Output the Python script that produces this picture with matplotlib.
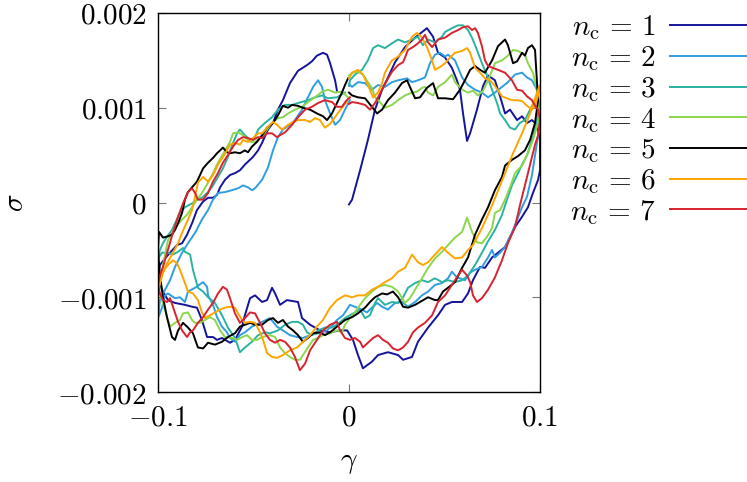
import numpy as np
import matplotlib
matplotlib.use("Agg")
import matplotlib.pyplot as plt

plt.rcParams['mathtext.fontset'] = 'cm'
plt.rcParams['font.family'] = 'serif'

# strain in units of 1e-2, stress in units of 1e-3, in time order
gamma_1 = [0, 0.16, 0.58, 0.99, 1.36, 1.73, 2.04, 2.41, 2.93, 3.46, 4.08, 4.40, 4.66, 5.03, 5.39, 5.65, 5.81, 5.97, 6.18, 6.34,
           6.70, 7.02, 7.28, 7.64, 7.91, 8.17, 8.43, 8.80, 9.06, 9.32, 9.58, 9.84, 10.0,
           10.0, 9.90, 9.63, 9.37, 9.06, 8.69, 8.17, 7.80, 7.49, 7.12, 6.86, 6.49, 6.23, 5.92, 5.39, 5.03, 4.66, 4.14, 3.61, 3.30,
           2.83, 2.57, 2.04, 1.52, 1.20, 0.73, 0.47, 0.21, -0.10, -0.47, -0.99, -1.52, -2.04, -2.46, -2.67, -3.25, -3.61, -3.87,
           -4.03, -4.29, -4.55, -4.92, -5.18, -5.45, -5.60, -5.97, -6.23, -6.65, -6.91, -7.12, -7.43, -7.70, -7.96, -8.22, -8.59,
           -9.11, -9.48, -9.79, -10.0,
           -9.90, -9.63, -9.37, -9.01, -8.74, -8.48, -8.22, -7.96, -7.64, -7.38, -7.12, -6.91, -6.75, -6.49, -6.23, -5.97, -5.71,
           -5.45, -5.29, -5.03, -4.76, -4.55, -4.24, -3.98, -3.72, -3.46, -3.09, -2.67, -2.20, -1.94, -1.68, -1.36, -1.15, -0.99,
           -0.73, -0.63]
sigma_1 = [-0.02, 0.03, 0.34, 0.66, 0.98, 1.19, 1.32, 1.48, 1.64, 1.74, 1.84, 1.75, 1.58, 1.53, 1.42, 1.29, 1.19, 0.94, 0.65, 0.73,
           0.98, 1.23, 1.34, 1.29, 1.12, 0.94, 0.98, 0.87, 0.91, 0.84, 0.87, 0.82, 0.66,
           0.34, 0.24, 0.10, -0.05, -0.15, -0.26, -0.47, -0.53, -0.58, -0.69, -0.68, -0.82, -0.96, -1.05, -1.05, -1.08, -1.19, -1.32,
           -1.47, -1.63, -1.66, -1.61, -1.58, -1.61, -1.68, -1.75, -1.61, -1.45, -1.35, -1.35, -1.37, -1.35, -1.29, -1.22, -1.05,
           -1.03, -1.08, -0.96, -0.90, -1.03, -1.05, -0.98, -1.01, -1.19, -1.31, -1.45, -1.48, -1.43, -1.45, -1.42, -1.42, -1.24,
           -1.11, -1.10, -1.08, -1.06, -1.03, -0.92, -0.77,
           -0.66, -0.59, -0.53, -0.45, -0.43, -0.34, -0.22, -0.08, 0.01, 0.05, 0.05, 0.08, 0.16, 0.24, 0.29, 0.31, 0.34, 0.40, 0.43,
           0.48, 0.55, 0.63, 0.77, 0.84, 0.98, 1.08, 1.26, 1.39, 1.45, 1.49, 1.55, 1.58, 1.56, 1.47, 1.29, 1.18]

gamma_2 = [0, 0.16, 0.47, 0.84, 1.20, 1.52, 1.88, 2.25, 2.57, 3.04, 3.30, 3.61, 3.98, 4.24, 4.50, 4.76, 5.03, 5.18, 5.55, 5.92,
           6.23, 6.60, 6.96, 7.28, 7.64, 8.01, 8.32, 8.69, 9.06, 9.32, 9.58, 9.84, 9.95,
           9.95, 9.74, 9.58, 9.32, 9.06, 8.80, 8.53, 8.17, 7.91, 7.64, 7.49, 7.28, 6.96, 6.60, 6.34, 6.07, 5.65, 5.39, 5.18, 4.87,
           4.50, 4.14, 3.82, 3.46, 3.09, 2.77, 2.41, 2.04, 1.73, 1.47, 1.20, 0.94, 0.68, 0.31, 0.05, -0.31, -0.63, -0.84, -1.15,
           -1.62, -2.04, -2.41, -2.72, -3.09, -3.46, -3.77, -4.14, -4.55, -5.08, -5.45, -5.71, -5.97, -6.23, -6.39, -6.65, -6.91,
           -7.12, -7.38, -7.43, -7.64, -8.06, -8.43, -8.59, -8.85, -9.11, -9.48, -9.63, -9.79, -10.0,
           -9.90, -9.63, -9.37, -9.11, -8.74, -8.43, -8.06, -7.70, -7.38, -7.12, -6.86, -6.49, -6.13, -5.81, -5.55, -5.29, -5.08,
           -4.92, -4.55, -4.24, -3.98, -3.72, -3.46, -3.09, -2.83, -2.46, -2.15, -1.88, -1.62, -1.41, -1.26, -0.99, -0.73, -0.47,
           -0.21, 0.05]
sigma_2 = [1.25, 1.22, 1.27, 1.26, 1.19, 1.24, 1.22, 1.27, 1.29, 1.31, 1.27, 1.29, 1.32, 1.47, 1.56, 1.58, 1.54, 1.56, 1.50, 1.32,
           1.24, 1.19, 1.16, 1.11, 1.16, 1.22, 1.27, 1.35, 1.37, 1.32, 1.29, 1.19, 1.02,
           0.77, 0.50, 0.29, 0.06, -0.05, -0.18, -0.32, -0.47, -0.53, -0.58, -0.50, -0.58, -0.68, -0.71, -0.74, -0.82, -0.79, -0.73,
           -0.80, -0.85, -0.87, -0.94, -0.98, -1.05, -1.10, -1.05, -1.06, -1.13, -1.10, -1.06, -1.11, -1.16, -1.13, -1.10, -1.08,
           -1.19, -1.24, -1.29, -1.35, -1.38, -1.40, -1.43, -1.42, -1.40, -1.35, -1.31, -1.22, -1.26, -1.31, -1.37, -1.40, -1.47,
           -1.43, -1.37, -1.31, -1.21, -1.08, -0.98, -0.89, -0.84, -0.90, -0.94, -1.05, -1.00, -1.01, -0.96, -0.98, -1.11, -1.22,
           -1.03, -0.92, -0.82, -0.68, -0.53, -0.43, -0.32, -0.18, -0.08, 0.03, 0.10, 0.11, 0.13, 0.15, 0.18, 0.16, 0.13, 0.15,
           0.24, 0.37, 0.55, 0.69, 0.77, 0.82, 0.87, 0.98, 1.11, 1.22, 1.29, 1.22, 1.08, 0.94, 0.82, 0.87, 0.98, 1.08]

gamma_3 = [0, 0.05, 0.31, 0.68, 0.99, 1.26, 1.52, 1.88, 2.25, 2.57, 2.93, 3.30, 3.61, 3.87, 4.14, 4.50, 4.87, 5.03, 5.39, 5.71,
           5.97, 6.23, 6.44, 6.70, 6.96, 7.23, 7.49, 7.75, 7.91, 8.17, 8.43, 8.69, 8.95, 9.21, 9.48, 9.74, 9.90,
           9.95, 9.79, 9.58, 9.32, 9.06, 8.85, 8.53, 8.27, 8.01, 7.64, 7.28, 6.96, 6.60, 6.23, 5.92, 5.55, 5.18, 4.87, 4.50, 4.14,
           3.82, 3.46, 3.09, 2.83, 2.57, 2.25, 1.88, 1.52, 1.36, 1.10, 0.84, 0.58, 0.31, 0.05, -0.21, -0.63, -0.89, -1.26, -1.62,
           -1.94, -2.20, -2.41, -2.67, -2.98, -3.35, -3.72, -4.14, -4.40, -4.76, -5.08, -5.45, -5.71, -5.97, -6.34, -6.65, -7.02,
           -7.38, -7.64, -7.91, -8.17, -8.32, -8.59, -8.69, -8.95, -9.22, -9.48, -9.79, -10.0,
           -9.90, -9.74, -9.53, -9.27, -9.11, -8.85, -8.59, -8.22, -7.96, -7.70, -7.38, -7.12, -6.86, -6.60, -6.34, -6.07, -5.86,
           -5.71, -5.45, -5.18, -4.92, -4.76, -4.40, -4.03, -3.72, -3.35, -2.98, -2.67, -2.15, -1.78, -1.41, -1.10, -0.63, -0.21]
sigma_3 = [1.23, 1.29, 1.35, 1.40, 1.50, 1.63, 1.66, 1.63, 1.68, 1.72, 1.69, 1.72, 1.75, 1.66, 1.72, 1.69, 1.75, 1.80, 1.84, 1.87,
           1.87, 1.82, 1.74, 1.61, 1.47, 1.34, 1.19, 1.05, 0.94, 0.87, 0.79, 0.77, 0.84, 0.87, 0.98, 1.08, 1.13,
           0.98, 0.82, 0.66, 0.50, 0.40, 0.31, 0.18, 0.03, -0.13, -0.29, -0.41, -0.53, -0.66, -0.77, -0.82, -0.84, -0.82, -0.84,
           -0.80, -0.84, -0.82, -0.85, -0.90, -1.00, -1.06, -1.05, -1.08, -1.01, -1.06, -1.19, -1.22, -1.13, -1.16, -1.19, -1.22,
           -1.29, -1.32, -1.32, -1.35, -1.40, -1.37, -1.29, -1.26, -1.26, -1.29, -1.35, -1.38, -1.37, -1.40, -1.47, -1.53, -1.58,
           -1.43, -1.32, -1.19, -1.06, -1.00, -0.94, -0.90, -0.71, -0.55, -0.52, -0.48, -0.52, -0.55, -0.53, -0.53, -0.59,
           -0.50, -0.43, -0.36, -0.29, -0.22, -0.11, -0.05, -0.01, 0.03, 0.05, 0.11, 0.18, 0.27, 0.36, 0.48, 0.63, 0.73, 0.77, 0.71,
           0.66, 0.69, 0.77, 0.84, 0.90, 0.98, 1.03, 1.03, 1.05, 1.08, 1.11, 1.13, 1.10, 1.11, 1.16]

gamma_4 = [0, 0.16, 0.47, 0.73, 0.99, 1.20, 1.36, 1.52, 1.88, 2.25, 2.57, 2.93, 3.30, 3.56, 3.82, 3.98, 4.14, 4.40, 4.66, 5.03,
           5.39, 5.55, 5.92, 6.23, 6.49, 6.75, 7.02, 7.28, 7.64, 8.01, 8.32, 8.59, 8.85, 9.21, 9.37, 9.63, 9.84, 9.95,
           9.90, 9.63, 9.37, 9.06, 8.69, 8.43, 8.17, 7.91, 7.64, 7.49, 7.23, 6.96, 6.70, 6.44, 6.18, 5.92, 5.55, 5.18, 4.87, 4.50,
           4.14, 3.82, 3.46, 3.19, 2.93, 2.57, 2.25, 1.88, 1.52, 1.20, 0.84, 0.58, 0.31, 0.05, -0.21, -0.37, -0.63, -0.99, -1.36,
           -1.62, -1.88, -2.15, -2.41, -2.57, -2.83, -3.09, -3.35, -3.61, -3.87, -4.14, -4.55, -4.82, -5.08, -5.34, -5.60, -5.86,
           -6.13, -6.49, -6.75, -7.02, -7.28, -7.54, -7.80, -8.06, -8.22, -8.43, -8.69, -8.85, -9.11, -9.37, -9.53, -9.79, -9.95,
           -9.84, -9.74, -9.63, -9.48, -9.11, -8.74, -8.48, -8.22, -7.96, -7.70, -7.38, -7.12, -6.86, -6.49, -6.23, -6.07, -5.81,
           -5.55, -5.18, -4.92, -4.55, -4.29, -4.03, -3.72, -3.46, -3.19, -2.83, -2.46, -2.15, -1.78, -1.41, -1.10, -0.73, -0.37,
           -0.05]
sigma_4 = [1.34, 1.37, 1.38, 1.35, 1.27, 1.21, 1.11, 1.08, 1.00, 1.03, 1.08, 1.13, 1.16, 1.17, 1.21, 1.22, 1.16, 1.13, 1.22, 1.27,
           1.35, 1.27, 1.19, 1.16, 1.18, 1.13, 1.18, 1.29, 1.47, 1.50, 1.55, 1.61, 1.60, 1.56, 1.47, 1.37, 1.19, 0.94,
           0.84, 0.66, 0.52, 0.39, 0.31, 0.16, 0.03, -0.08, -0.11, -0.27, -0.36, -0.43, -0.42, -0.31, -0.16, -0.31, -0.37, -0.45,
           -0.52, -0.59, -0.69, -0.80, -0.92, -1.01, -1.06, -0.94, -0.89, -0.87, -0.89, -0.94, -1.01, -1.08, -1.16, -1.22, -1.29,
           -1.37, -1.35, -1.38, -1.40, -1.43, -1.45, -1.53, -1.61, -1.66, -1.66, -1.63, -1.59, -1.53, -1.42, -1.40, -1.42, -1.45,
           -1.45, -1.40, -1.42, -1.45, -1.43, -1.42, -1.35, -1.24, -1.21, -1.24, -1.27, -1.27, -1.24, -1.16, -1.17, -1.24, -1.27,
           -1.31, -1.21, -1.03, -0.94,
           -0.82, -0.66, -0.55, -0.40, -0.26, -0.18, -0.13, -0.05, 0.03, 0.10, 0.21, 0.31, 0.42, 0.55, 0.64, 0.73, 0.74, 0.71, 0.64,
           0.64, 0.69, 0.77, 0.84, 0.89, 0.90, 0.94, 0.98, 1.01, 1.06, 1.11, 1.17, 1.19, 1.16, 1.17, 1.11]

gamma_5 = [0, 0.16, 0.47, 0.84, 1.20, 1.47, 1.73, 2.04, 2.41, 2.77, 3.04, 3.19, 3.46, 3.72, 4.08, 4.40, 4.66, 5.03, 5.45, 5.81,
           6.07, 6.34, 6.60, 6.86, 7.12, 7.49, 7.80, 8.17, 8.32, 8.59, 8.80, 9.06, 9.21, 9.37, 9.58, 9.74, 9.84, 9.90,
           9.74, 9.48, 9.21, 8.85, 8.53, 8.17, 8.01, 7.64, 7.28, 6.96, 6.60, 6.23, 5.92, 5.55, 5.18, 4.92, 4.66, 4.50, 4.14, 3.72,
           3.46, 3.09, 2.83, 2.57, 2.30, 1.99, 1.73, 1.36, 1.10, 0.84, 0.47, 0.16, -0.21, -0.63, -0.99, -1.26, -1.52, -1.88, -2.15,
           -2.41, -2.67, -2.93, -3.19, -3.46, -3.72, -3.98, -4.24, -4.55, -4.92, -5.18, -5.45, -5.71, -5.97, -6.34, -6.65, -7.02,
           -7.38, -7.64, -7.91, -8.17, -8.43, -8.69, -8.95, -9.11, -9.27, -9.53, -9.74, -9.90, -10.0,
           -9.95, -9.74, -9.53, -9.27, -9.11, -8.95, -8.74, -8.59, -8.43, -8.22, -7.96, -7.80, -7.64, -7.38, -7.12, -6.91, -6.75,
           -6.60, -6.39, -6.23, -5.97, -5.71, -5.45, -5.29, -5.08, -4.82, -4.55, -4.29, -3.98, -3.72, -3.46, -3.19, -2.98, -2.67,
           -2.41, -2.04, -1.68, -1.36, -1.15, -0.89, -0.63, -0.37, -0.21, -0.05]
sigma_5 = [1.16, 1.13, 1.11, 1.10, 1.01, 0.94, 0.98, 1.08, 1.16, 1.26, 1.29, 1.22, 1.10, 1.11, 1.21, 1.26, 1.10, 1.10, 1.09, 1.19,
           1.29, 1.40, 1.44, 1.40, 1.37, 1.50, 1.65, 1.72, 1.66, 1.47, 1.49, 1.58, 1.55, 1.63, 1.66, 1.61, 1.29, 1.08,
           0.84, 0.66, 0.55, 0.49, 0.45, 0.39, 0.27, 0.13, -0.05, -0.18, -0.34, -0.58, -0.69, -0.84, -0.90, -0.94, -1.03, -1.03,
           -1.00, -1.05, -1.08, -1.11, -1.10, -1.00, -0.94, -0.97, -0.96, -1.00, -1.05, -1.11, -1.17, -1.21, -1.24, -1.31, -1.37,
           -1.40, -1.37, -1.38, -1.43, -1.47, -1.40, -1.35, -1.31, -1.24, -1.27, -1.22, -1.24, -1.29, -1.29, -1.27, -1.29, -1.31,
           -1.38, -1.42, -1.47, -1.50, -1.48, -1.54, -1.53, -1.38, -1.32, -1.27, -1.35, -1.45, -1.42, -1.21, -1.00, -0.77, -0.50,
           -0.31, -0.37, -0.36, -0.34, -0.29, -0.22, -0.11, 0.03, 0.11, 0.16, 0.22, 0.29, 0.36, 0.42, 0.47, 0.52, 0.55, 0.58, 0.53,
           0.52, 0.53, 0.52, 0.55, 0.53, 0.59, 0.64, 0.71, 0.79, 0.84, 0.92, 1.02, 1.00, 1.03, 1.02, 1.00, 0.98, 0.94, 0.91, 0.87,
           0.94, 1.05, 1.16, 1.24, 1.31]

gamma_6 = [0, 0.16, 0.47, 0.73, 0.99, 1.26, 1.52, 1.73, 1.88, 2.25, 2.57, 2.93, 3.30, 3.56, 3.82, 4.08, 4.35, 4.50, 4.76, 5.03,
           5.29, 5.55, 5.92, 6.18, 6.34, 6.60, 6.86, 7.12, 7.38, 7.64, 8.01, 8.27, 8.53, 8.80, 9.06, 9.32, 9.58, 9.74, 9.90, 10.0,
           9.84, 9.48, 9.06, 8.59, 8.17, 7.75, 7.49, 7.23, 6.96, 6.70, 6.49, 6.23, 5.92, 5.55, 5.18, 4.87, 4.50, 4.14, 3.87, 3.61,
           3.30, 2.93, 2.57, 2.25, 1.88, 1.52, 1.20, 0.84, 0.47, 0.16, -0.21, -0.63, -0.99, -1.36, -1.68, -2.04, -2.41, -2.72,
           -3.09, -3.46, -3.77, -4.03, -4.29, -4.50, -4.66, -4.92, -5.18, -5.45, -5.60, -5.81, -5.97, -6.23, -6.49, -6.75, -7.02,
           -7.28, -7.54, -7.70, -7.91, -8.17, -8.43, -8.59, -8.85, -9.01, -9.22, -9.48, -9.74, -9.90, -10.0,
           -9.84, -9.58, -9.27, -8.95, -8.74, -8.43, -8.22, -8.06, -7.91, -7.64, -7.38, -7.12, -6.86, -6.60, -6.39, -6.23, -5.97,
           -5.71, -5.55, -5.29, -5.03, -4.76, -4.55, -4.24, -3.98, -3.77, -3.51, -3.19, -2.93, -2.67, -2.30, -2.04, -1.78, -1.52,
           -1.26, -0.99, -0.63, -0.37, -0.10]
sigma_6 = [1.31, 1.37, 1.40, 1.35, 1.24, 1.11, 1.16, 1.26, 1.37, 1.50, 1.54, 1.61, 1.75, 1.79, 1.74, 1.64, 1.50, 1.40, 1.43, 1.47,
           1.53, 1.58, 1.60, 1.63, 1.58, 1.42, 1.37, 1.31, 1.29, 1.23, 1.12, 1.10, 1.08, 1.08, 1.07, 1.02, 0.98, 1.02, 1.13, 1.24,
           1.16, 0.94, 0.73, 0.52, 0.31, 0.10, -0.03, -0.15, -0.27, -0.37, -0.45, -0.50, -0.58, -0.59, -0.53, -0.47, -0.55, -0.63,
           -0.66, -0.63, -0.55, -0.69, -0.73, -0.80, -0.84, -0.89, -0.92, -0.98, -0.98, -1.00, -0.98, -1.03, -1.11, -1.24, -1.31,
           -1.40, -1.47, -1.53, -1.56, -1.61, -1.64, -1.63, -1.59, -1.45, -1.37, -1.27, -1.26, -1.27, -1.24, -1.17, -1.11, -1.10,
           -1.11, -1.13, -1.16, -1.19, -1.22, -1.16, -1.03, -0.96, -0.94, -0.85, -0.71, -0.64, -0.61, -0.66, -0.73, -0.85, -0.92,
           -0.80, -0.66, -0.55, -0.43, -0.32, -0.18, -0.08, 0.06, 0.21, 0.27, 0.22, 0.29, 0.40, 0.48, 0.55, 0.61, 0.63, 0.61, 0.66,
           0.64, 0.68, 0.73, 0.73, 0.80, 0.85, 0.82, 0.77, 0.82, 0.85, 0.87, 0.87, 0.85, 0.89, 0.87, 0.79, 0.83, 0.93, 1.00, 1.07]

gamma_7 = [0, 0.16, 0.47, 0.84, 1.10, 1.36, 1.52, 1.73, 1.99, 2.25, 2.57, 2.83, 3.09, 3.35, 3.61, 3.82, 3.98, 4.14, 4.35, 4.66,
           5.03, 5.39, 5.71, 5.97, 6.23, 6.44, 6.60, 6.75, 6.96, 7.12, 7.28, 7.54, 7.80, 8.17, 8.53, 8.80, 9.06, 9.32, 9.58, 9.74,
           9.90,
           10.0, 9.90, 9.74, 9.48, 9.21, 8.95, 8.69, 8.32, 8.01, 7.64, 7.28, 6.96, 6.70, 6.49, 6.34, 6.18, 5.92, 5.65, 5.39, 5.03,
           4.66, 4.35, 3.98, 3.61, 3.35, 3.09, 2.83, 2.57, 2.30, 2.04, 1.78, 1.52, 1.26, 0.99, 0.73, 0.58, 0.31, 0.05, -0.21,
           -0.47, -0.63, -0.99, -1.36, -1.68, -2.04, -2.30, -2.57, -2.83, -3.09, -3.35, -3.61, -3.87, -4.14, -4.40, -4.66, -4.92,
           -5.18, -5.45, -5.71, -5.97, -6.23, -6.39, -6.60, -6.86, -7.12, -7.38, -7.64, -7.91, -8.17, -8.32, -8.48, -8.74, -8.95,
           -9.22, -9.37, -9.53, -9.74, -9.90, -10.0,
           -9.90, -9.74, -9.48, -9.22, -8.95, -8.69, -8.43, -8.22, -8.06, -7.91, -7.64, -7.38, -7.12, -6.86, -6.60, -6.34, -6.07,
           -5.81, -5.55, -5.29, -5.03, -4.76, -4.55, -4.29, -4.03, -3.77, -3.61, -3.35, -2.98, -2.67, -2.30, -1.94, -1.62, -1.26,
           -0.89, -0.63, -0.37, -0.16, 0.05]
sigma_7 = [1.04, 1.06, 1.05, 1.03, 0.98, 1.05, 1.11, 1.19, 1.29, 1.38, 1.45, 1.48, 1.61, 1.64, 1.68, 1.72, 1.77, 1.69, 1.64, 1.72,
           1.74, 1.79, 1.82, 1.85, 1.86, 1.82, 1.84, 1.79, 1.65, 1.50, 1.44, 1.42, 1.40, 1.37, 1.29, 1.19, 1.18, 1.12, 1.08, 1.02,
           0.98,
           0.87, 0.71, 0.61, 0.40, 0.18, -0.03, -0.26, -0.43, -0.61, -0.79, -0.92, -1.01, -1.05, -0.98, -0.84, -0.77, -0.71, -0.79,
           -0.87, -0.98, -1.05, -1.19, -1.27, -1.32, -1.37, -1.47, -1.53, -1.56, -1.54, -1.48, -1.45, -1.40, -1.43, -1.48, -1.53,
           -1.47, -1.43, -1.45, -1.43, -1.35, -1.26, -1.29, -1.35, -1.45, -1.56, -1.70, -1.77, -1.63, -1.53, -1.47, -1.45, -1.48,
           -1.45, -1.38, -1.27, -1.17, -1.16, -1.22, -1.27, -1.17, -1.01, -0.92, -0.89, -0.96, -1.06, -1.13, -1.21, -1.27, -1.35,
           -1.37, -1.42, -1.35, -1.26, -1.10, -1.01, -1.05, -1.03, -0.96, -0.87,
           -0.77, -0.68, -0.50, -0.32, -0.15, -0.01, 0.11, 0.15, 0.10, 0.03, 0.03, 0.10, 0.22, 0.31, 0.42, 0.50, 0.59, 0.66, 0.69,
           0.68, 0.66, 0.69, 0.68, 0.73, 0.73, 0.69, 0.71, 0.74, 0.82, 0.90, 0.98, 1.01, 1.05, 1.08, 1.06, 1.01, 1.01, 1.07, 1.11]

gammas = [gamma_1, gamma_2, gamma_3, gamma_4, gamma_5, gamma_6, gamma_7]
sigmas = [sigma_1, sigma_2, sigma_3, sigma_4, sigma_5, sigma_6, sigma_7]
n_c = [1, 2, 3, 4, 5, 6, 7]
colors = ['#14149a', '#2f9ee0', '#2bb3a2', '#8cd64c', 'black', '#ffa500', '#d8232e']

xticks = [-0.1, 0, 0.1]
xtick_labels = [r'$-0.1$', r'$0$', r'$0.1$']
yticks = [-0.002, -0.001, 0, 0.001, 0.002]
ytick_labels = [r'$-0.002$', r'$-0.001$', r'$0$', r'$0.001$', r'$0.002$']

fig = plt.figure(figsize=(7.47, 4.82), dpi=100)
ax = fig.add_axes([158/747, 1 - 392/482, 382/747, 379/482])

for g, s, n, c in zip(gammas, sigmas, n_c, colors):
    ax.plot(np.array(g)*1e-2, np.array(s)*1e-3, color=c, lw=1.4,
            label=r'$n_\mathrm{c}\, =\, %d$' % n)

ax.set_xlim(-0.1, 0.1)
ax.set_ylim(-0.002, 0.002)
ax.set_xticks(xticks, labels=xtick_labels)
ax.set_yticks(yticks, labels=ytick_labels)
ax.tick_params(direction='in', length=6, width=0.8, color='#777777',
               top=True, right=True, labelsize=21, pad=8)
for sp in ax.spines.values():
    sp.set_linewidth(1.0)

ax.set_xlabel(r'$\gamma$', fontsize=21, labelpad=12)
ax.set_ylabel(r'$\sigma$', fontsize=21, labelpad=20)

ax.legend(loc='upper left', bbox_to_anchor=(550/747, 1 + 7/482), bbox_transform=fig.transFigure,
          frameon=False, markerfirst=False, fontsize=21, handlelength=2.9,
          labelspacing=0.06, handletextpad=0.45, borderpad=0.2)

fig.savefig('out.png', dpi=100)
